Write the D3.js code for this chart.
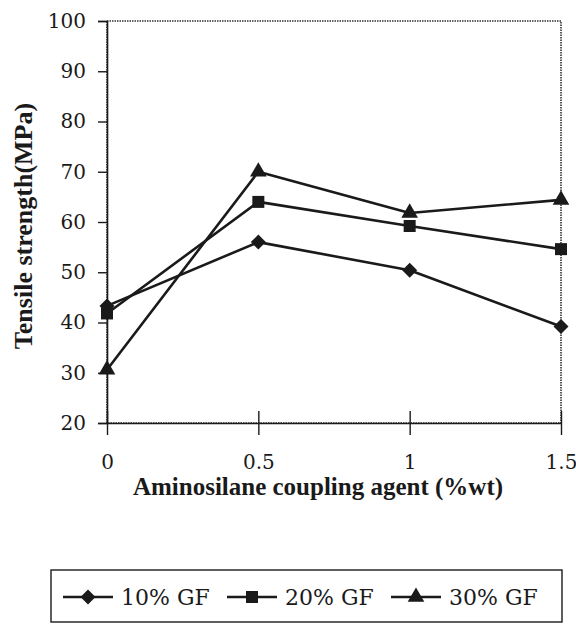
<!DOCTYPE html>
<html>
<head>
<meta charset="utf-8">
<script src="https://cdn.jsdelivr.net/npm/d3@7"></script>
<style>
  html, body { margin: 0; padding: 0; background: #fff; }
  svg { display: block; }
</style>
</head>
<body>
<svg id="chart" width="576" height="642"></svg>
<script>
// ---- data ----
const xValues = [0, 0.5, 1, 1.5];
const xTickLabels = ["0", "0.5", "1", "1.5"];
const yTicks = [20, 30, 40, 50, 60, 70, 80, 90, 100];
const seriesNames = ["10% GF", "20% GF", "30% GF"];
const gf10 = [43.3, 56.0, 50.4, 39.2];
const gf20 = [41.8, 64.0, 59.2, 54.6];
const gf30 = [30.6, 70.0, 61.8, 64.4];
const markerTypes = ["diamond", "square", "triangle"];

const seriesData = [gf10, gf20, gf30];

const svg = d3.select("#chart");
const plot = { left: 107, right: 561, top: 21, bottom: 423 };

const x = d3.scaleLinear().domain([0, 1.5]).range([plot.left, plot.right]);
const y = d3.scaleLinear().domain([20, 100]).range([plot.bottom, plot.top]);

const ink = "#1a1a1a";
const tickFont = "'DejaVu Serif', serif";
const titleFont = "'Liberation Serif', 'Times New Roman', serif";

// frame (dotted)
svg.append("rect")
  .attr("x", plot.left).attr("y", plot.top)
  .attr("width", plot.right - plot.left).attr("height", plot.bottom - plot.top)
  .attr("fill", "none").attr("stroke", "#333").attr("stroke-width", 1.6)
  .attr("stroke-dasharray", "1.5,1");

// y axis
const yAxis = d3.axisLeft(y).tickValues(yTicks).tickSize(9).tickPadding(12)
  .tickFormat(d3.format("d"));
const gy = svg.append("g").attr("transform", `translate(${plot.left},0)`).call(yAxis);
gy.select(".domain").attr("stroke", ink).attr("stroke-width", 1.6);
gy.selectAll(".tick line").attr("stroke", ink).attr("stroke-width", 1.4);
gy.selectAll(".tick text").attr("font-family", tickFont).attr("font-size", 20)
  .attr("fill", ink);

// x axis: ticks crossing the axis line
const xAxis = d3.axisBottom(x).tickValues(xValues).tickSize(12).tickSizeOuter(0)
  .tickFormat((d, i) => xTickLabels[i]);
const gx = svg.append("g").attr("transform", `translate(0,${plot.bottom})`).call(xAxis);
gx.select(".domain").attr("stroke", ink).attr("stroke-width", 1.6);
gx.selectAll(".tick line").attr("stroke", ink).attr("stroke-width", 1.4)
  .attr("y1", -12).attr("y2", 12);
gx.selectAll(".tick text").attr("font-family", tickFont).attr("font-size", 20)
  .attr("fill", ink).attr("dy", 0).attr("y", 46);

// axis titles
svg.append("text")
  .attr("x", 318).attr("y", 495)
  .attr("text-anchor", "middle")
  .attr("font-family", titleFont).attr("font-weight", "bold").attr("font-size", 25)
  .attr("fill", ink)
  .text("Aminosilane coupling agent (%wt)");

svg.append("text")
  .attr("transform", `translate(32,226) rotate(-90)`)
  .attr("text-anchor", "middle")
  .attr("font-family", titleFont).attr("font-weight", "bold").attr("font-size", 26)
  .attr("fill", ink)
  .text("Tensile strength(MPa)");

// marker shapes
function markerPath(type) {
  if (type === "diamond") return "M0,-7.5L7.5,0L0,7.5L-7.5,0Z";
  if (type === "square") return "M-6,-6H6V6H-6Z";
  return d3.symbol().type(d3.symbolTriangle).size(120)();
}

const line = d3.line().x((d, i) => x(xValues[i])).y(d => y(d));

seriesData.forEach((vals, si) => {
  svg.append("path").datum(vals)
    .attr("d", line).attr("fill", "none")
    .attr("stroke", ink).attr("stroke-width", 2.6).attr("stroke-linejoin", "round");
  svg.selectAll(null).data(vals).enter().append("path")
    .attr("d", markerPath(markerTypes[si]))
    .attr("transform", (d, i) => `translate(${x(xValues[i])},${y(d)})`)
    .attr("fill", ink);
});

// legend
const legend = { left: 51, right: 562, top: 570, bottom: 622 };
svg.append("rect")
  .attr("x", legend.left).attr("y", legend.top)
  .attr("width", legend.right - legend.left).attr("height", legend.bottom - legend.top)
  .attr("fill", "none").attr("stroke", ink).attr("stroke-width", 1.4);

const legendX = d3.scalePoint().domain(seriesNames).range([88, 416]);
const legendY = 597;
seriesNames.forEach((name, si) => {
  const cx = legendX(name);
  svg.append("line").attr("x1", cx - 25).attr("x2", cx + 25)
    .attr("y1", legendY).attr("y2", legendY)
    .attr("stroke", ink).attr("stroke-width", 2.4);
  svg.append("path").attr("d", markerPath(markerTypes[si]))
    .attr("transform", `translate(${cx},${legendY})`).attr("fill", ink);
  svg.append("text").attr("x", cx + 33).attr("y", legendY + 8)
    .attr("font-family", tickFont).attr("font-size", 22).attr("fill", ink)
    .text(name);
});
</script>
</body>
</html>
